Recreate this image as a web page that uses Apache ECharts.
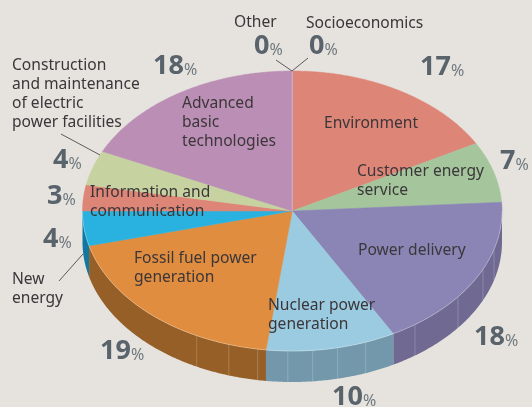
<!DOCTYPE html>
<html><head><meta charset="utf-8">
<style>html,body{margin:0;padding:0;background:#e6e2dd}#c{width:532px;height:407px}</style>
<script src="https://cdn.jsdelivr.net/npm/echarts@6/dist/echarts.min.js"></script></head>
<body><div id="c"></div>
<script>
const categories = ['Environment','Customer energy service','Power delivery','Nuclear power generation','Fossil fuel power generation','New energy','Information and communication','Construction and maintenance of electric power facilities','Advanced basic technologies','Other','Socioeconomics'];
const shares = [17,7,18,10,19,4,3,4,18,0,0];
const topColors = ['#dd8577','#a5c69d','#8a85b5','#9bcbe1','#e08d3f','#29b2e0','#dd8577','#c6d3a0','#bb8fb5','#bb8fb5','#dd8577'];
const sideColors = ['#b06a5f','#84a07d','#706a93','#7398ab','#955f27','#12789f','#b06a5f','#9ea980','#966f91','#966f91','#b06a5f'];
const seamAngles = [105.9,114.6,127.8,144.2,159.5,167.5,174.4,181.2,189.5,197.6,207.1];

const DEPTH = 31, FONT = '"Noto Sans", sans-serif', TXT = '#3b3639';
let acc = 0;
const slices = shares.map((s, i) => { const a = acc; acc += s; return [a * 3.6, acc * 3.6, i]; });
const pt = (api, deg) => { const r = deg * Math.PI / 180; return api.coord([Math.sin(r), Math.cos(r)]); };

function arc(api, a, b) { const n = Math.max(2, Math.ceil((b - a) * 2)), out = []; for (let k = 0; k <= n; k++) out.push(pt(api, a + (b - a) * k / n)); return out; }

const wallSeries = {
  type: 'custom', coordinateSystem: 'cartesian2d', data: slices.filter(d => d[1] > 90 && d[0] < 270), z: 2, silent: true,
  renderItem(p, api) {
    const a = Math.max(api.value(0), 90), b = Math.min(api.value(1), 270), top = arc(api, a, b);
    const bot = top.map(q => [q[0], q[1] + DEPTH]).reverse();
    return { type: 'polygon', shape: { points: top.concat(bot) }, style: { fill: sideColors[api.value(2)] } };
  }, encode: { x: 0, y: 1 }
};
const seamSeries = {
  type: 'custom', coordinateSystem: 'cartesian2d', data: seamAngles.map(a => [a]), z: 3, silent: true,
  renderItem(p, api) {
    const q = pt(api, api.value(0));
    return { type: 'line', shape: { x1: q[0], y1: q[1], x2: q[0], y2: q[1] + DEPTH }, style: { stroke: 'rgba(255,255,255,0.2)', lineWidth: 1 } };
  }, encode: { x: 0 }
};
const topSeries = {
  type: 'custom', coordinateSystem: 'cartesian2d', data: slices.filter(d => d[1] > d[0]), z: 4, silent: true,
  renderItem(p, api) {
    const c = api.coord([0, 0]), pts = [c].concat(arc(api, api.value(0), api.value(1))), col = topColors[api.value(2)];
    return { type: 'polygon', shape: { points: pts }, style: { fill: col, stroke: col, lineWidth: 0.5 } };
  }, encode: { x: 0, y: 1 }
};
const rimSeries = {
  type: 'custom', coordinateSystem: 'cartesian2d', data: [[90, 270], [360, 360]], z: 5, silent: true,
  renderItem(p, api) {
    const a = api.value(0), b = api.value(1);
    if (a === b) { const c = api.coord([0, 0]), q = pt(api, a); return { type: 'line', shape: { x1: c[0], y1: c[1], x2: q[0], y2: q[1] }, style: { stroke: 'rgba(255,255,255,0.3)', lineWidth: 1 } }; }
    return { type: 'polyline', shape: { points: arc(api, a, b) }, style: { stroke: 'rgba(255,255,255,0.35)', lineWidth: 0.8, fill: null } };
  }, encode: { x: 0, y: 1 }
};

const nameLabels = [
  ['Environment', 324, 124], ['Customer energy\nservice', 357, 181.5], ['Power delivery', 358, 251],
  ['Nuclear power\ngeneration', 268, 315.5], ['Fossil fuel power\ngeneration', 134, 268.5], ['New\nenergy', 12, 289],
  ['Information and\ncommunication', 90, 202.5], ['Construction\nand maintenance\nof electric\npower facilities', 12, 94],
  ['Advanced\nbasic\ntechnologies', 182, 123], ['Other', 234, 23], ['Socioeconomics', 306, 24]
];
const pctPositions = [[420,67],[500,161],[474,337],[332,397],[100,351],[43,239],[47,196],[53,160],[153,66],[254,46],[309,46]];
const leaders = [[292,71,276,60],[292,71,308,58],[61,134,100,155],[59,281,83,254]];

const graphic = [];
nameLabels.forEach(l => graphic.push({ type: 'text', x: l[1], y: l[2], z: 20, style: { text: l[0], font: '15.6px ' + FONT, fill: TXT, lineHeight: 19, textAlign: 'left', textVerticalAlign: 'middle' } }));
leaders.forEach(l => graphic.push({ type: 'line', z: 20, shape: { x1: l[0], y1: l[1], x2: l[2], y2: l[3] }, style: { stroke: '#3b3639', lineWidth: 0.8 } }));
shares.forEach((s, i) => {
  const p = pctPositions[i];
  graphic.push({ type: 'text', x: p[0], y: p[1], z: 20, style: {
    text: '{n|' + s + '}{p|%}', textVerticalAlign: 'middle', textAlign: 'left',
    rich: { n: { font: 'bold 27px ' + FONT, fill: '#59636b', color: '#59636b', verticalAlign: 'bottom' }, p: { font: '16px ' + FONT, fill: '#6f7a80', color: '#6f7a80', verticalAlign: 'bottom', padding: [0, 0, 1, 0] } }
  } });
});

const chart = echarts.init(document.getElementById('c'), null, { renderer: 'canvas' });
chart.setOption({
  animation: false, backgroundColor: '#e6e2dd',
  grid: { left: 82.5, top: 71, width: 419.5, height: 280 },
  xAxis: { type: 'value', min: -1, max: 1, show: false },
  yAxis: { type: 'value', min: -1, max: 1, show: false },
  series: [wallSeries, seamSeries, topSeries, rimSeries],
  graphic
});
</script></body></html>
